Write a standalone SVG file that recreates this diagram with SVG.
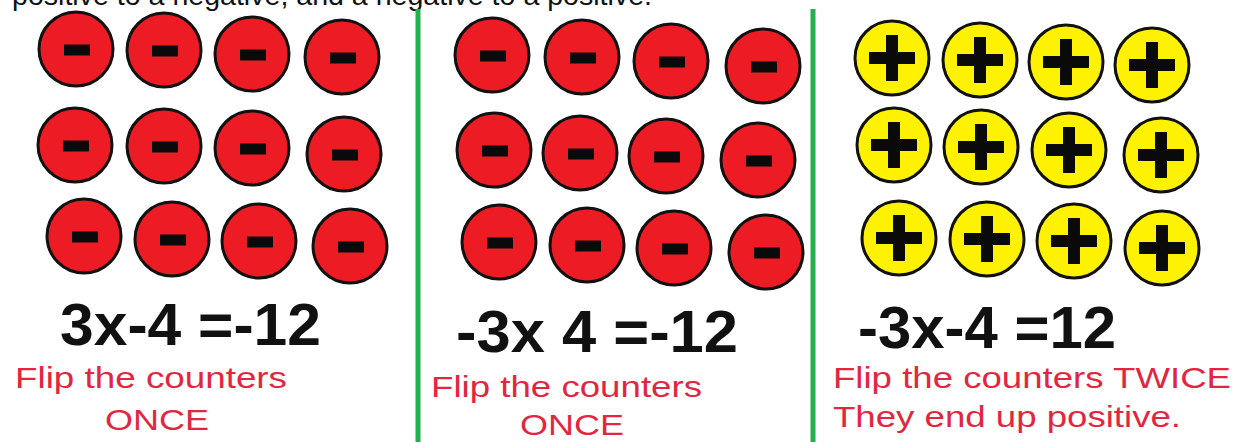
<svg xmlns="http://www.w3.org/2000/svg" xmlns:xlink="http://www.w3.org/1999/xlink" width="1240" height="442" viewBox="0 0 1240 442">
<style>
.top{font-family:"Liberation Sans",Arial,sans-serif;font-size:28px;fill:#111}
.eq{font-family:"Liberation Sans",Arial,sans-serif;font-size:60px;font-weight:bold;fill:#111}
.lbl{font-family:"Liberation Sans",Arial,sans-serif;font-size:30px;fill:#e3263f}
.sep{stroke:#22b14c;stroke-width:5}
</style>
<defs>
<g id="neg">
<circle r="37" fill="#ed1c24" stroke="#111" stroke-width="3"/>
<rect x="-12" y="-4.5" width="26" height="11" fill="#0a0a0a"/>
</g>
<g id="pos">
<circle r="37" fill="#fff200" stroke="#111" stroke-width="3"/>
<rect x="-23" y="-6" width="46" height="12" fill="#0a0a0a"/>
<rect x="-6" y="-23" width="12" height="46" fill="#0a0a0a"/>
</g>
</defs>
<rect width="1240" height="442" fill="#ffffff"/>
<text class="top" x="12" y="5" textLength="640" lengthAdjust="spacingAndGlyphs">positive to a negative, and a negative to a positive.</text>
<g id="separators">
<line class="sep" x1="418" y1="9" x2="418" y2="442"/>
<line class="sep" x1="813" y1="9" x2="813" y2="442"/>
</g>
<g id="panel1">
<g id="p1-counters">
<use xlink:href="#neg" x="76" y="49"/>
<use xlink:href="#neg" x="164" y="50"/>
<use xlink:href="#neg" x="252" y="54"/>
<use xlink:href="#neg" x="342" y="57"/>
<use xlink:href="#neg" x="75" y="145"/>
<use xlink:href="#neg" x="164" y="146"/>
<use xlink:href="#neg" x="252" y="148"/>
<use xlink:href="#neg" x="344" y="154"/>
<use xlink:href="#neg" x="84" y="236"/>
<use xlink:href="#neg" x="172" y="239"/>
<use xlink:href="#neg" x="259" y="241"/>
<use xlink:href="#neg" x="350" y="246"/>
</g>
<text class="eq" x="60" y="345" textLength="261" lengthAdjust="spacingAndGlyphs">3x-4 =-12</text>
<text class="lbl" x="15" y="388" textLength="272" lengthAdjust="spacingAndGlyphs">Flip the counters</text>
<text class="lbl" x="105" y="430" textLength="104" lengthAdjust="spacingAndGlyphs">ONCE</text>
</g>
<g id="panel2">
<g id="p2-counters">
<use xlink:href="#neg" x="492" y="55"/>
<use xlink:href="#neg" x="582" y="57"/>
<use xlink:href="#neg" x="671" y="61"/>
<use xlink:href="#neg" x="763" y="66"/>
<use xlink:href="#neg" x="494" y="150"/>
<use xlink:href="#neg" x="580" y="153"/>
<use xlink:href="#neg" x="666" y="156"/>
<use xlink:href="#neg" x="758" y="160"/>
<use xlink:href="#neg" x="499" y="242"/>
<use xlink:href="#neg" x="587" y="245"/>
<use xlink:href="#neg" x="674" y="248"/>
<use xlink:href="#neg" x="766" y="252"/>
</g>
<text class="eq" x="456" y="352" textLength="282" lengthAdjust="spacingAndGlyphs">-3x 4 =-12</text>
<text class="lbl" x="431" y="397" textLength="271" lengthAdjust="spacingAndGlyphs">Flip the counters</text>
<text class="lbl" x="520" y="435" textLength="104" lengthAdjust="spacingAndGlyphs">ONCE</text>
</g>
<g id="panel3">
<g id="p3-counters">
<use xlink:href="#pos" x="892" y="58"/>
<use xlink:href="#pos" x="980" y="60"/>
<use xlink:href="#pos" x="1066" y="62"/>
<use xlink:href="#pos" x="1152" y="65"/>
<use xlink:href="#pos" x="894" y="145"/>
<use xlink:href="#pos" x="981" y="147"/>
<use xlink:href="#pos" x="1069" y="150"/>
<use xlink:href="#pos" x="1161" y="155"/>
<use xlink:href="#pos" x="899" y="238"/>
<use xlink:href="#pos" x="987" y="239"/>
<use xlink:href="#pos" x="1074" y="241"/>
<use xlink:href="#pos" x="1162" y="248"/>
</g>
<text class="eq" x="858" y="348" textLength="258" lengthAdjust="spacingAndGlyphs">-3x-4 =12</text>
<text class="lbl" x="833" y="388" textLength="398" lengthAdjust="spacingAndGlyphs">Flip the counters TWICE</text>
<text class="lbl" x="833" y="427" textLength="348" lengthAdjust="spacingAndGlyphs">They end up positive.</text>
</g>
</svg>
